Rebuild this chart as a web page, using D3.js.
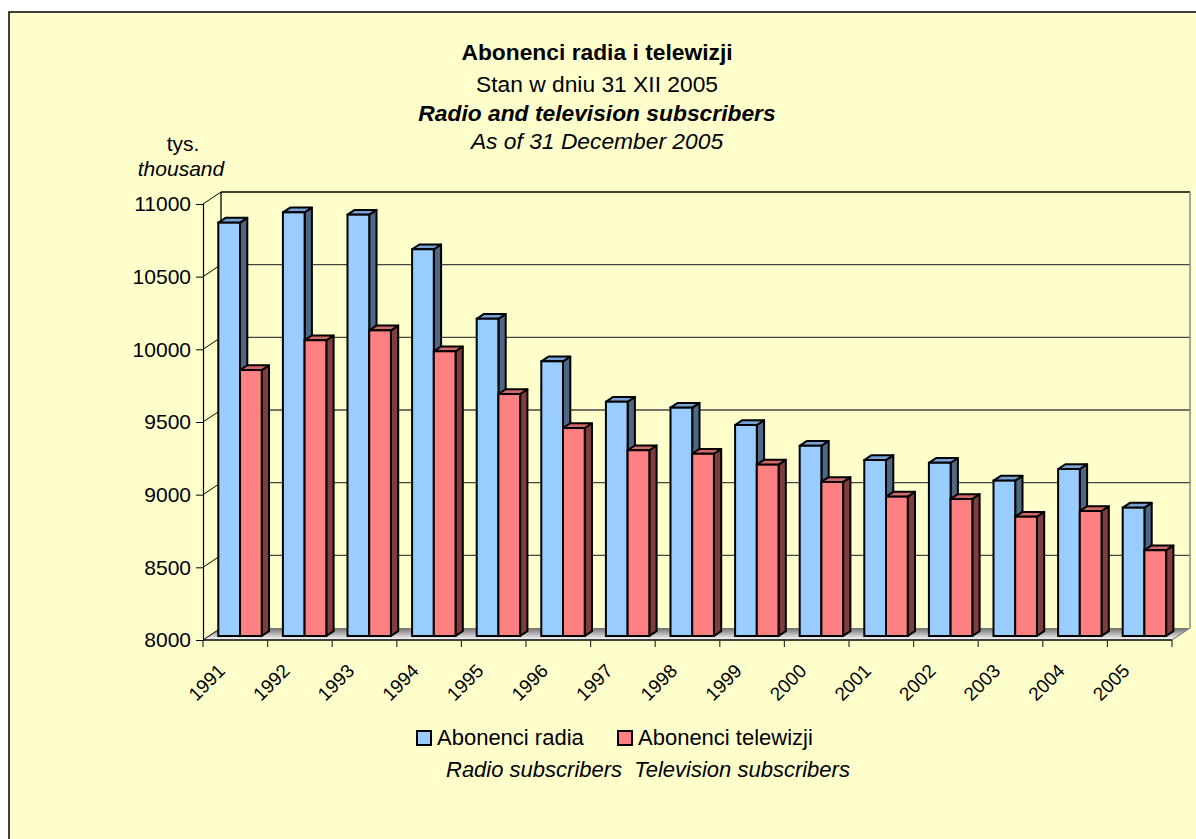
<!DOCTYPE html>
<html>
<head>
<meta charset="utf-8">
<script src="https://cdn.jsdelivr.net/npm/d3@7"></script>
<style>
  body { margin: 0; background: #fff; }
  svg text { font-family: "Liberation Sans", Arial, sans-serif; fill: #000; }
</style>
</head>
<body>
<svg id="chart"></svg>
<script>
// dane (tys.)
const years = ["1991", "1992", "1993", "1994", "1995", "1996", "1997", "1998",
               "1999", "2000", "2001", "2002", "2003", "2004", "2005"];
const radio = [10844, 10915, 10899, 10661, 10183, 9890, 9612, 9571,
               9452, 9309, 9211, 9192, 9069, 9149, 8883];
const tv = [9830, 10035, 10103, 9959, 9665, 9431, 9278, 9254,
            9179, 9060, 8959, 8943, 8821, 8860, 8590];
const yTicks = [8000, 8500, 9000, 9500, 10000, 10500, 11000];
const seriesNames = ["Abonenci radia", "Abonenci telewizji"];
const seriesEn = ["Radio subscribers", "Television subscribers"];

const width = 1196, height = 839;
const svg = d3.select("#chart").attr("width", width).attr("height", height);

// tlo i ramka
svg.append("rect").attr("x", 9).attr("y", 12)
  .attr("width", width).attr("height", height)
  .attr("fill", "#ffffcc").attr("stroke", "#000").attr("stroke-width", 1.5);

// tytul
const titles = [
  {t: "Abonenci radia i telewizji", w: "bold", s: "normal", y: 60},
  {t: "Stan w dniu 31 XII 2005", w: "normal", s: "normal", y: 92},
  {t: "Radio and television subscribers", w: "bold", s: "italic", y: 121},
  {t: "As of 31 December 2005", w: "normal", s: "italic", y: 149}
];
svg.selectAll(".title").data(titles).enter().append("text")
  .attr("x", 597).attr("y", d => d.y)
  .attr("text-anchor", "middle")
  .style("font-size", "22.8px")
  .style("font-weight", d => d.w).style("font-style", d => d.s)
  .text(d => d.t);

svg.append("text").attr("x", 183).attr("y", 151).attr("text-anchor", "middle")
  .style("font-size", "21px").text("tys.");
svg.append("text").attr("x", 181).attr("y", 176).attr("text-anchor", "middle")
  .style("font-size", "21px").style("font-style", "italic").text("thousand");

// skale
const x0 = 203, x1 = 1172;
const scaleX = d3.scaleBand().domain(years).range([x0, x1]).paddingInner(0).paddingOuter(0);
const bw = scaleX.bandwidth();
const scaleS = d3.scaleBand().domain(seriesNames).range([0.144 * bw, 0.816 * bw]);
const scaleY = d3.scaleLinear().domain([8000, 11000]).range([640, 204]);

// glebokosc 3D
const wallDX = 18, wallDY = -12;     // tylna sciana
const barDX = 6, barDY = -4;         // przod slupkow
const sideDX = 7.3, sideDY = -4.8;   // grubosc slupka

// podloga
const defs = svg.append("defs");
const grad = defs.append("linearGradient").attr("id", "floorGrad")
  .attr("x1", 0).attr("y1", 0).attr("x2", 0).attr("y2", 1);
grad.append("stop").attr("offset", "0%").attr("stop-color", "#6e6e6e");
grad.append("stop").attr("offset", "100%").attr("stop-color", "#ffffff");

const yBase = scaleY(8000);
svg.append("path")
  .attr("d", `M${x0},${yBase} L${x1},${yBase} L${x1 + wallDX},${yBase + wallDY} L${x0 + wallDX},${yBase + wallDY} Z`)
  .attr("fill", "url(#floorGrad)").attr("stroke", "none");
svg.append("line").attr("x1", x1).attr("y1", yBase).attr("x2", x1 + wallDX).attr("y2", yBase + wallDY)
  .attr("stroke", "#888").attr("stroke-width", 1.2);

// siatka na tylnej scianie
svg.selectAll(".grid").data(yTicks.filter(d => d > 8000)).enter().append("line")
  .attr("x1", x0 + wallDX).attr("x2", x1 + wallDX)
  .attr("y1", d => scaleY(d) + wallDY).attr("y2", d => scaleY(d) + wallDY)
  .attr("stroke", d => d === 11000 ? "#000" : "#444")
  .attr("stroke-width", 1.4);

// sciana boczna
svg.selectAll(".side").data(yTicks).enter().append("line")
  .attr("x1", x0).attr("y1", d => scaleY(d))
  .attr("x2", x0 + wallDX).attr("y2", d => scaleY(d) + wallDY)
  .attr("stroke", "#000").attr("stroke-width", 1);
svg.append("line").attr("x1", x0 + wallDX).attr("x2", x0 + wallDX)
  .attr("y1", scaleY(11000) + wallDY).attr("y2", yBase + wallDY)
  .attr("stroke", "#000").attr("stroke-width", 1.3);
svg.append("line").attr("x1", x1 + wallDX).attr("x2", x1 + wallDX)
  .attr("y1", scaleY(11000) + wallDY).attr("y2", yBase + wallDY)
  .attr("stroke", "#888").attr("stroke-width", 1.5);

// os Y
const axisY = d3.axisLeft(scaleY).tickValues(yTicks).tickFormat(d3.format("d"))
  .tickSize(7).tickPadding(5);
const gy = svg.append("g").attr("transform", `translate(${x0},0)`).call(axisY);
gy.select(".domain").attr("stroke", "#000").attr("stroke-width", 1.2);
gy.selectAll("line").attr("stroke", "#000");
gy.selectAll("text").style("font-size", "21px").style("font-family", "Liberation Sans, Arial, sans-serif");

// slupki
const colors = [
  {front: "#99ccff", side: "#4d6785", top: "#76a2d4"},
  {front: "#ff8080", side: "#7f3d3d", top: "#d06a6a"}
];
const barData = [];
years.forEach((yr, i) => {
  barData.push({year: yr, s: 0, v: radio[i]});
  barData.push({year: yr, s: 1, v: tv[i]});
});
const bars = svg.selectAll(".bar").data(barData).enter().append("g");
bars.each(function(d) {
  const g = d3.select(this);
  const w = scaleS.bandwidth();
  const bx = scaleX(d.year) + scaleS(seriesNames[d.s]) + barDX;
  const top = scaleY(d.v) + barDY;
  const bot = yBase + barDY;
  const c = colors[d.s];
  g.append("path")
    .attr("d", `M${bx + w},${top} L${bx + w + sideDX},${top + sideDY} L${bx + w + sideDX},${bot + sideDY} L${bx + w},${bot} Z`)
    .attr("fill", c.side).attr("stroke", "#000").attr("stroke-width", 2).attr("stroke-linejoin", "round");
  g.append("path")
    .attr("d", `M${bx},${top} L${bx + sideDX},${top + sideDY} L${bx + w + sideDX},${top + sideDY} L${bx + w},${top} Z`)
    .attr("fill", c.top).attr("stroke", "#000").attr("stroke-width", 2).attr("stroke-linejoin", "round");
  g.append("rect")
    .attr("x", bx).attr("y", top).attr("width", w).attr("height", bot - top)
    .attr("fill", c.front).attr("stroke", "#000").attr("stroke-width", 2);
});

// os X
svg.append("line").attr("x1", x0).attr("x2", x1).attr("y1", yBase).attr("y2", yBase)
  .attr("stroke", "#000").attr("stroke-width", 1.3);
svg.selectAll(".xtick").data(years.map(d => scaleX(d)).concat([x1])).enter().append("line")
  .attr("x1", d => d).attr("x2", d => d).attr("y1", yBase).attr("y2", yBase + 7)
  .attr("stroke", "#333").attr("stroke-width", 1.2);
svg.selectAll(".xlabel").data(years).enter().append("text")
  .attr("transform", d => `translate(${scaleX(d) + bw / 2 - 9},${yBase + 32}) rotate(-45)`)
  .attr("text-anchor", "end")
  .style("font-size", "19px")
  .text(d => d);

// legenda
const legX = [417, 618];
const leg = svg.selectAll(".leg").data(seriesNames).enter().append("g");
leg.append("rect")
  .attr("x", (d, i) => legX[i]).attr("y", 731).attr("width", 14).attr("height", 14)
  .attr("fill", (d, i) => colors[i].front).attr("stroke", "#000").attr("stroke-width", 2);
leg.append("text")
  .attr("x", (d, i) => legX[i] + 20).attr("y", 745)
  .style("font-size", "22px").text(d => d);
svg.append("text").attr("x", 446).attr("y", 777)
  .style("font-size", "22px").style("font-style", "italic")
  .attr("xml:space", "preserve")
  .text(seriesEn[0] + "  " + seriesEn[1]);
</script>
</body>
</html>
